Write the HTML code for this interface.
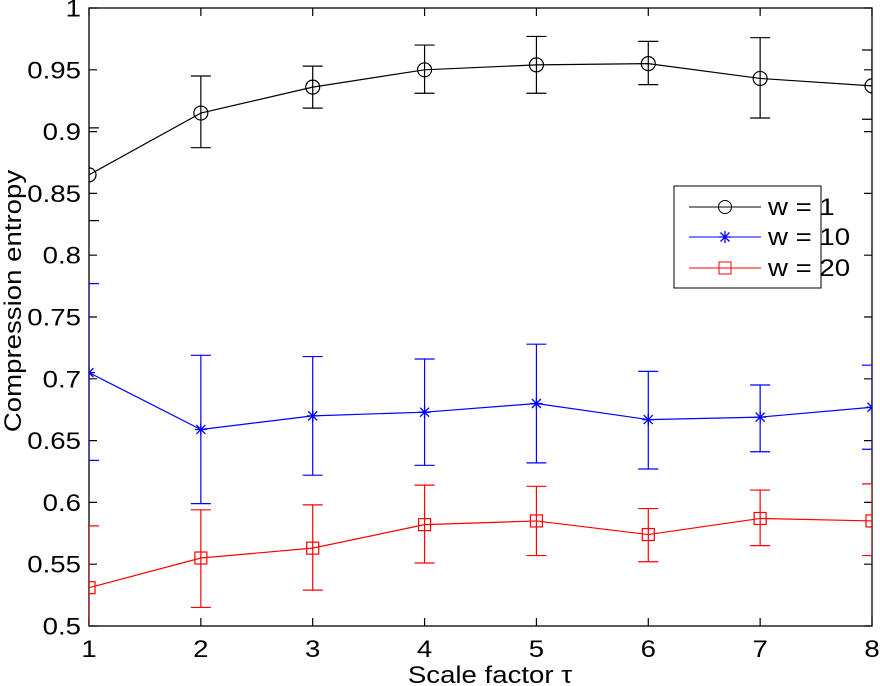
<!DOCTYPE html>
<html><head><meta charset="utf-8"><style>
html,body{margin:0;padding:0;background:#fff;}
svg{display:block;font-family:"Liberation Sans",Arial,sans-serif;}
</style></head><body>
<svg id="chart" width="880" height="686" viewBox="0 0 880 686">
<defs><clipPath id="pc"><rect x="89" y="8" width="783" height="618"/></clipPath></defs>
<rect x="0" y="0" width="880" height="686" fill="#fff"/>
<g id="grid"></g>
<g id="series" clip-path="url(#pc)"></g>
<g id="legend">
<rect x="674" y="186" width="147" height="102" fill="#fff" stroke="#000" stroke-width="1"/>
<g>
<line x1="689" y1="207" x2="761" y2="207" stroke="#000"/><circle cx="725" cy="207" r="6.5" fill="none" stroke="#000"/>
<text transform="translate(768,215) scale(1.15,1)" font-size="24">w = 1</text></g>
<g>
<line x1="689" y1="237" x2="761" y2="237" stroke="#00f"/>
<path d="M719,237h12M725,231v12M720.5,232.5l9,9M729.5,232.5l-9,9" stroke="#00f" stroke-width="1.3"/>
<text transform="translate(768,245) scale(1.15,1)" font-size="24">w = 10</text></g>
<g>
<line x1="689" y1="268" x2="761" y2="268" stroke="#f00"/><rect x="719" y="262" width="12" height="12" fill="none" stroke="#f00"/>
<text transform="translate(768,276) scale(1.15,1)" font-size="24">w = 20</text></g>
</g>
<text transform="translate(490,683) scale(1.15,1)" font-size="24" text-anchor="middle">Scale factor τ</text>
<text transform="translate(21,301) rotate(-90) scale(1.15,1)" font-size="24" text-anchor="middle">Compression entropy</text>
</svg>
<script>
const xCats=[1,2,3,4,5,6,7,8];
const yTicks=[0.5,0.55,0.6,0.65,0.7,0.75,0.8,0.85,0.9,0.95,1];
const yTickLabels=["0.5","0.55","0.6","0.65","0.7","0.75","0.8","0.85","0.9","0.95","1"];
const w1Mean=[0.865,0.915,0.936,0.950,0.954,0.955,0.943,0.937];
const w1Hi=[0.903,0.945,0.953,0.970,0.977,0.973,0.976,0.966];
const w1Lo=[0.828,0.887,0.919,0.931,0.931,0.938,0.911,0.910];
const w10Mean=[0.705,0.659,0.670,0.673,0.680,0.667,0.669,0.677];
const w10Hi=[0.777,0.719,0.718,0.716,0.728,0.706,0.695,0.711];
const w10Lo=[0.634,0.599,0.622,0.630,0.632,0.627,0.641,0.643];
const w20Mean=[0.531,0.555,0.563,0.582,0.585,0.574,0.587,0.585];
const w20Hi=[0.581,0.594,0.598,0.614,0.613,0.595,0.610,0.615];
const w20Lo=[0.481,0.515,0.529,0.551,0.557,0.552,0.565,0.557];

const L=89,R=872,T=8,B=626;
const xs=v=>L+(v-1)*(R-L)/7;
const ys=v=>B-(v-0.5)*(B-T)/0.5;
const NS="http://www.w3.org/2000/svg";
function mk(tag,attrs,parent){const e=document.createElementNS(NS,tag);for(const k in attrs)e.setAttribute(k,attrs[k]);parent.appendChild(e);return e;}
const g=document.getElementById('grid');
const box=mk('rect',{x:L,y:T,width:R-L,height:B-T,fill:'none',stroke:'#000','stroke-width':1.3},g);


yTicks.forEach((v,i)=>{
  const y=ys(v);
  const t=mk('path',{d:`M${L},${y}h8M${R},${y}h-8`,stroke:'#000','stroke-width':1.2},g);
  
  
  const tx=mk('text',{transform:`translate(81,${y+8.5}) scale(1.15,1)`,'font-size':24,'text-anchor':'end'},g);
  tx.textContent=yTickLabels[i];
  
  
});
xCats.forEach(v=>{
  const x=xs(v);
  const t=mk('path',{d:`M${x},${B}v-8M${x},${T}v8`,stroke:'#000','stroke-width':1.2},g);
  
  
  const tx=mk('text',{transform:`translate(${x},657) scale(1.15,1)`,'font-size':24,'text-anchor':'middle'},g);
  tx.textContent=String(v);
  
  
});
const sg=document.getElementById('series');
function series(name,mean,hi,lo,color,marker){
  const grp=mk('g',{},sg);
  
  
  xCats.forEach((c,i)=>{
    const x=xs(c),y1=ys(hi[i]),y2=ys(lo[i]);
    const e=mk('path',{d:`M${x},${y1}V${y2}M${x-10},${y1}h20M${x-10},${y2}h20`,stroke:color,'stroke-width':1.2,fill:'none'},grp);
    
    
  });
  const pl=mk('polyline',{points:xCats.map((c,i)=>xs(c)+','+ys(mean[i])).join(' '),fill:'none',stroke:color,'stroke-width':1.2},grp);
  
  
  xCats.forEach((c,i)=>{
    const x=xs(c),y=ys(mean[i]);let m;
    if(marker==='o')m=mk('circle',{cx:x,cy:y,r:7,fill:'none',stroke:color,'stroke-width':1.2},grp);
    else if(marker==='s')m=mk('rect',{x:x-6,y:y-6,width:12,height:12,fill:'none',stroke:color,'stroke-width':1.2},grp);
    else m=mk('path',{d:`M${x-6},${y}h12M${x},${y-6}v12M${x-4.5},${y-4.5}l9,9M${x+4.5},${y-4.5}l-9,9`,stroke:color,'stroke-width':1.3},grp);
    
    
  });
}
series('w20',w20Mean,w20Hi,w20Lo,'#f00','s');
series('w10',w10Mean,w10Hi,w10Lo,'#00f','x');
series('w1',w1Mean,w1Hi,w1Lo,'#000','o');
</script>
</body></html>
